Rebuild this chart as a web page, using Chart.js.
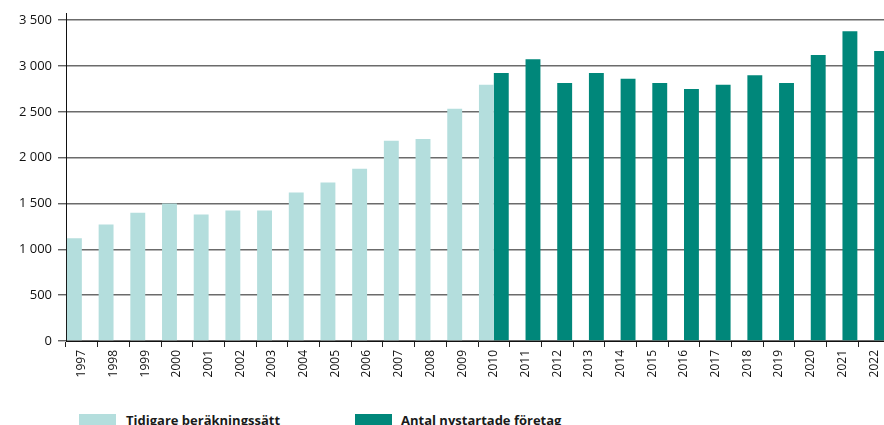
<!DOCTYPE html>
<html>
<head>
<meta charset="utf-8">
<script src="https://cdn.jsdelivr.net/npm/chart.js@4"></script>
<style>
  html, body { margin: 0; padding: 0; background: #fff; overflow: hidden; width: 884px; height: 425px; }
  #wrap { position: absolute; left: 0; top: 0; width: 892px; height: 400px; }
  .legend { position: absolute; top: 413px; font-family: "Open Sans", "Noto Sans", sans-serif; font-weight: bold; font-size: 13px; color: #1a1a1a; white-space: nowrap; }
  .legend .box { position: absolute; left: 0; top: 1px; width: 37px; height: 14px; }
  .legend span.txt { position: absolute; top: -2px; }
</style>
</head>
<body>
<div id="wrap"><canvas id="chart"></canvas></div>
<div class="legend" style="left:79px"><div class="box" style="background:#b4dedd"></div><span class="txt" style="left:47px">Tidigare beräkningssätt</span></div>
<div class="legend" style="left:355px"><div class="box" style="background:#00877a"></div><span class="txt" style="left:46px">Antal nystartade företag</span></div>
<script>
// ─── Data ───
const years = ['1997','1998','1999','2000','2001','2002','2003','2004','2005','2006','2007','2008','2009',
               '2010','2011','2012','2013','2014','2015','2016','2017','2018','2019','2020','2021','2022'];
const oldMethod = [1120, 1270, 1400, 1500, 1380, 1425, 1425, 1620, 1730, 1880, 2185, 2205, 2535, 2795,
                   null, null, null, null, null, null, null, null, null, null, null, null];
const newStarts = [null, null, null, null, null, null, null, null, null, null, null, null, null, 2925,
                   3075, 2815, 2925, 2860, 2815, 2750, 2795, 2900, 2815, 3120, 3380, 3165];
const yTicks = [0, 500, 1000, 1500, 2000, 2500, 3000, 3500];

const fontFam = '"Open Sans", "Noto Sans", sans-serif';

new Chart(document.getElementById('chart'), {
    type: 'bar',
    data: {
        labels: years,
        datasets: [
            { label: 'Tidigare beräkningssätt', data: oldMethod, backgroundColor: '#b4dedd' },
            { label: 'Antal nystartade företag', data: newStarts, backgroundColor: '#00877a' }
        ]
    },
    options: {
        responsive: true,
        maintainAspectRatio: false,
        animation: false,
        datasets: { bar: { categoryPercentage: 0.94, barPercentage: 1 } },
        layout: { padding: { top: 0, right: 2, left: 0, bottom: 0 } },
        plugins: { legend: { display: false }, tooltip: { enabled: false } },
        scales: {
            x: {
                grid: { offset: true, drawOnChartArea: false, drawTicks: true, tickLength: 6, color: '#222', lineWidth: 1 },
                border: { color: '#111', width: 1 },
                ticks: { minRotation: 90, maxRotation: 90, autoSkip: false, color: '#111', padding: 3,
                         font: { family: fontFam, size: 12 } },
                afterFit: s => { s.height = 59; }
            },
            y: {
                min: 0,
                max: 3570,
                afterBuildTicks: s => { s.ticks = yTicks.map(v => ({ value: v })); },
                grid: { color: '#6b6b6b', lineWidth: 1.6, tickLength: 8, tickColor: '#222', tickWidth: 1 },
                border: { color: '#111', width: 1 },
                ticks: { color: '#111', padding: 6, font: { family: fontFam, size: 13 },
                         callback: v => String(v).replace(/\B(?=(\d{3})+(?!\d))/g, ' ') },
                afterFit: s => { s.width = 66; }
            }
        }
    }
});
</script>
</body>
</html>
